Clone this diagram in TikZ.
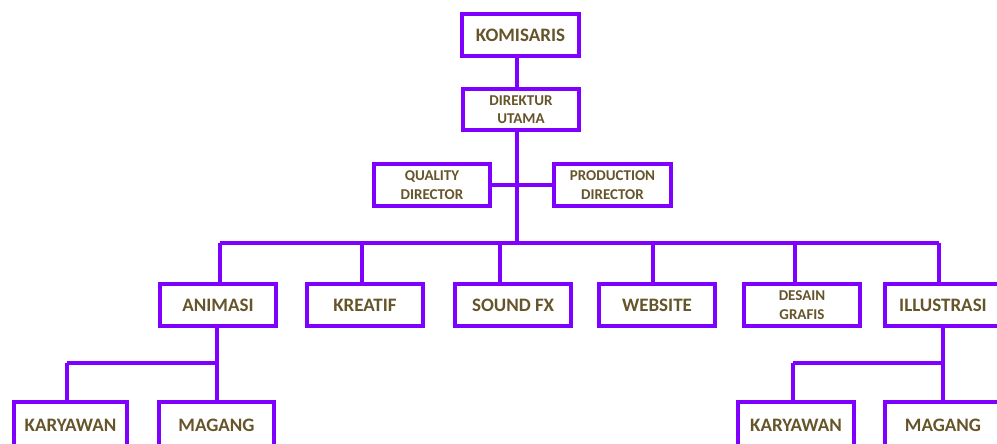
\documentclass[tikz,border=0pt]{standalone}
\usepackage{fontspec}
\setmainfont{Carlito}
\definecolor{boxline}{HTML}{7F00FF}
\definecolor{txt}{HTML}{66552A}
\begin{document}
\begin{tikzpicture}[x=1pt,y=-1pt,
  box/.style={draw=boxline,line width=4pt,fill=white,text=txt,minimum width=116pt,minimum height=42pt,inner sep=0pt,align=center},
  big/.style={font=\fontsize{19}{20}\selectfont\bfseries},
  small/.style={font=\fontsize{15}{18.5}\selectfont\bfseries},
  conn/.style={draw=boxline,line width=4pt}]
\useasboundingbox (0,0) rectangle (997,444);
\fill[white] (0,0) rectangle (997,444);
\clip (0,0) rectangle (997,444);
\coordinate (tx) at (517,0);
\coordinate (bus) at (0,243);
\coordinate (subL) at (0,363);
\coordinate (xa) at (220,0);
\coordinate (xk) at (362,0);
\coordinate (xs) at (500,0);
\coordinate (xw) at (653,0);
\coordinate (xd) at (795,0);
\coordinate (xi) at (939,0);
\coordinate (xaa) at (217,0);
\coordinate (xkl) at (67,0);
\coordinate (xii) at (943,0);
\coordinate (xkr) at (793,0);
\node[box,big,minimum width=117pt] (kom) at (520.5,35) {KOMISARIS};
\node[box,small,minimum height=41pt] (dir) at (521,109.5) {DIREKTUR\\UTAMA};
\node[box,small] (qd) at (432,185) {QUALITY\\DIRECTOR};
\node[box,small,minimum width=117pt] (pd) at (612.5,185) {PRODUCTION\\DIRECTOR};
\node[box,big] (ani) at (218,305) {ANIMASI};
\node[box,big] (kre) at (365,305) {KREATIF};
\node[box,big] (snd) at (513,305) {SOUND FX};
\node[box,big] (web) at (657,305) {WEBSITE};
\node[box,small] (des) at (802,305) {DESAIN\\GRAFIS};
\node[box,big] (ill) at (943,305) {ILLUSTRASI};
\node[box,big,minimum width=113pt,minimum height=46pt] (kar1) at (70.5,425) {KARYAWAN};
\node[box,big,minimum width=115pt,minimum height=46pt] (mag1) at (216.5,425) {MAGANG};
\node[box,big,minimum height=46pt] (kar2) at (796,425) {KARYAWAN};
\node[box,big,minimum height=46pt] (mag2) at (943,425) {MAGANG};
\draw[conn] (kom.south -| tx) -- (dir.north -| tx);
\draw[conn] (dir.south -| tx) -- (bus -| tx);
\draw[conn] (qd.east) -- (pd.west);
\draw[conn] (bus -| xa) -- (bus -| xi);
\draw[conn] (bus -| xa) -- (ani.north -| xa);
\draw[conn] (bus -| xk) -- (kre.north -| xk);
\draw[conn] (bus -| xs) -- (snd.north -| xs);
\draw[conn] (bus -| xw) -- (web.north -| xw);
\draw[conn] (bus -| xd) -- (des.north -| xd);
\draw[conn] (bus -| xi) -- (ill.north -| xi);
\draw[conn] (ani.south -| xaa) -- (mag1.north -| xaa);
\draw[conn] (subL -| xkl) -- (subL -| xaa);
\draw[conn] (subL -| xkl) -- (kar1.north -| xkl);
\draw[conn] (ill.south -| xii) -- (mag2.north -| xii);
\draw[conn] (subL -| xkr) -- (subL -| xii);
\draw[conn] (subL -| xkr) -- (kar2.north -| xkr);
\end{tikzpicture}
\end{document}
